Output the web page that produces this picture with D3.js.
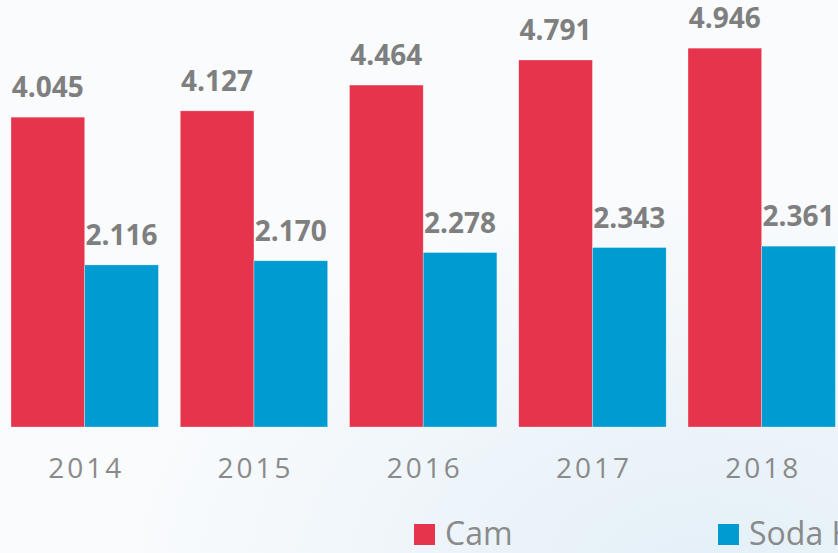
<!DOCTYPE html>
<html>
<head>
<meta charset="utf-8">
<script src="https://cdn.jsdelivr.net/npm/d3@7"></script>
<style>
  html, body { margin: 0; padding: 0; background: #f8fafc; }
  svg { display: block; }
</style>
</head>
<body>
<div id="chart"></div>
<script>
// Yearly figures for two product series
const years = ["2014", "2015", "2016", "2017", "2018"];
const seriesNames = ["Cam", "Soda Hóa"];
const camValues = [4.045, 4.127, 4.464, 4.791, 4.946];
const sodaValues = [2.116, 2.170, 2.278, 2.343, 2.361];
const seriesColors = ["#e5344c", "#009bd1"];

const width = 838, height = 553;
const baseY = 427;
const pxPerUnit = 76.6;

const rows = years.map((yr, i) => ({ year: yr, values: [camValues[i], sodaValues[i]] }));

const svg = d3.select("#chart").append("svg")
  .attr("width", width).attr("height", height);

// soft background with a pale blue haze toward the lower right
const defs = svg.append("defs");
const grad = defs.append("radialGradient").attr("id", "bg")
  .attr("cx", "85%").attr("cy", "105%").attr("r", "70%");
grad.append("stop").attr("offset", "0%").attr("stop-color", "#e3eff7");
grad.append("stop").attr("offset", "100%").attr("stop-color", "#f9fbfd");
svg.append("rect").attr("width", width).attr("height", height).attr("fill", "url(#bg)");

const x0 = d3.scaleBand().domain(years).range([11, 835.4]).paddingInner(0.129).paddingOuter(0);
const x1 = d3.scaleBand().domain(seriesNames).range([0, x0.bandwidth()]).padding(0);
const y = d3.scaleLinear().domain([0, 5]).range([baseY, baseY - 5 * pxPerUnit]);

const groups = svg.append("g").selectAll("g").data(rows).join("g")
  .attr("transform", d => `translate(${x0(d.year)},0)`);

const cells = groups.selectAll("g.cell")
  .data(d => d.values.map((v, i) => ({ name: seriesNames[i], value: v, color: seriesColors[i] })))
  .join("g").attr("class", "cell");

cells.append("rect")
  .attr("x", d => x1(d.name))
  .attr("y", d => y(d.value))
  .attr("width", x1.bandwidth())
  .attr("height", d => y(0) - y(d.value))
  .attr("fill", d => d.color)
  .attr("stroke", "#ffffff").attr("stroke-width", 0.6).attr("stroke-opacity", 0.5);

cells.append("text")
  .attr("x", d => x1(d.name) + x1.bandwidth() / 2)
  .attr("y", d => y(d.value) - 20)
  .attr("text-anchor", "middle")
  .attr("font-family", "'Open Sans', sans-serif")
  .attr("font-weight", 700)
  .attr("font-size", 28)
  .attr("fill", "#7f7f7f")
  .text(d => d3.format(".3f")(d.value));

// category axis, no line or ticks
const xAxis = svg.append("g").attr("transform", `translate(0,${baseY})`)
  .call(d3.axisBottom(x0).tickSize(0).tickPadding(0));
xAxis.select(".domain").remove();
xAxis.selectAll("text")
  .attr("dy", null)
  .attr("y", 51)
  .attr("dx", "1.5px")
  .attr("font-family", "'Open Sans', sans-serif")
  .attr("font-size", 28)
  .attr("letter-spacing", "3px")
  .attr("fill", "#8a8a8a");

// legend
const legendX = [414, 718];
const legend = svg.append("g").selectAll("g").data(seriesNames).join("g")
  .attr("transform", (d, i) => `translate(${legendX[i]},524)`);
legend.append("rect").attr("width", 21).attr("height", 21)
  .attr("fill", (d, i) => seriesColors[i]);
legend.append("text")
  .attr("x", 31).attr("y", 20.5)
  .attr("font-family", "'Open Sans', sans-serif")
  .attr("font-size", 32)
  .attr("fill", "#8a8a8a")
  .text(d => d);
</script>
</body>
</html>
